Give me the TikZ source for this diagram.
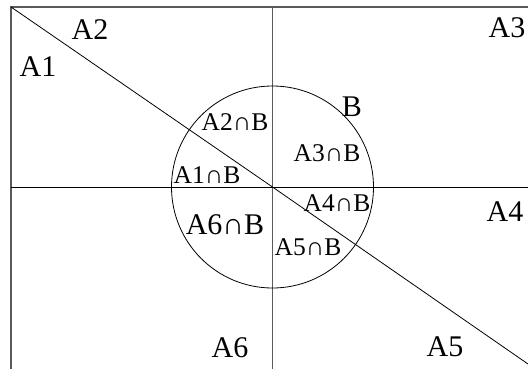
\documentclass[tikz,border=0pt]{standalone}
\usepackage{fontspec}
\setmainfont{Liberation Serif}
\usetikzlibrary{calc,positioning}

\begin{document}
\begin{tikzpicture}[x=1pt,y=-1pt,
every node/.style={inner sep=0pt},
biglab/.style={font=\fontsize{30}{32}\selectfont},
smalllab/.style={font=\fontsize{25.5}{28}\selectfont}]
\useasboundingbox (0,0) rectangle (528,369);
\coordinate (O) at (272.5,187);
\coordinate (TL) at (11,7);
\coordinate (TR) at (528,7);
\coordinate (BL) at (11,369);
\coordinate (T) at (272.5,7);
\coordinate (Bt) at (272.5,369);
\coordinate (L) at (11,187);
\coordinate (R) at (528,187);
\coordinate (DR) at (528,364);
\draw[black!65,line width=1.3pt] (BL)--(TL)--(TR);
\draw[black!65,line width=1.1pt] (T)--(Bt);
\draw[line width=.8pt] (L)--(R);
\draw[line width=.8pt] (TL)--(O)--(DR);
\draw[line width=.8pt] (O) circle (101);
\node[biglab] (A1) at (38,67) {A1};
\node[biglab] (A2) at (90,30) {A2};
\node[biglab] (A3) at (507,28) {A3};
\node[biglab] (A4) at (505,212) {A4};
\node[biglab] (A5) at (445,347) {A5};
\node[biglab] (A6) at (230,348) {A6};
\node[biglab] (B) at (352,107) {B};
\node[smalllab] (A1B) at (207,175) {A1∩B};
\node[smalllab] (A2B) at (235,122) {A2∩B};
\node[smalllab] (A3B) at (327,153) {A3∩B};
\node[smalllab] (A4B) at (337,203) {A4∩B};
\node[smalllab] (A5B) at (308,247) {A5∩B};
\node[biglab] (A6B) at (225,225) {A6∩B};
\end{tikzpicture}
\end{document}
